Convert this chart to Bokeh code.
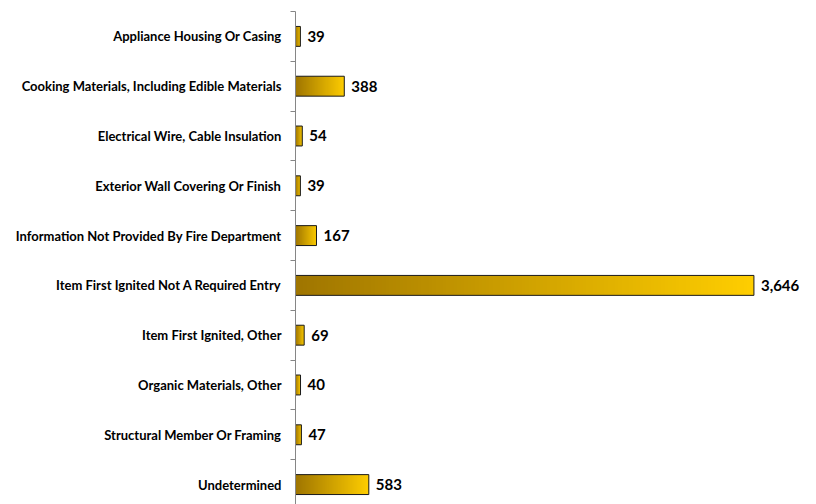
import numpy as np
from bokeh.plotting import figure
from bokeh.models import Range1d, FixedTicker, ColumnDataSource
from bokeh.core.properties import value
from bokeh.embed import file_html
from bokeh.resources import INLINE

categories = [
    "Appliance Housing Or Casing",
    "Cooking Materials, Including Edible Materials",
    "Electrical Wire, Cable Insulation",
    "Exterior Wall Covering Or Finish",
    "Information Not Provided By Fire Department",
    "Item First Ignited Not A Required Entry",
    "Item First Ignited, Other",
    "Organic Materials, Other",
    "Structural Member Or Framing",
    "Undetermined",
]
counts = [39, 388, 54, 39, 167, 3646, 69, 40, 47, 583]

n = len(categories)
ypos = list(range(n))
BAR_H = 0.40

p = figure(width=816, height=504, output_backend="svg", toolbar_location=None,
           x_range=Range1d(0, 4080), y_range=Range1d(9.40, -0.50),
           min_border_left=295, min_border_right=8, min_border_top=11, min_border_bottom=0)
p.outline_line_color = None
p.grid.visible = False
p.background_fill_color = "white"
p.border_fill_color = "white"
p.xaxis.visible = False

# gradient images per bar
ncol = 128
c0 = np.array([160, 118, 0])
c1 = np.array([255, 206, 0])
imgs, xs, ys, dws, dhs = [], [], [], [], []
for i, v in enumerate(counts):
    t = np.linspace(0, 1, ncol)
    rgb = (c0[None, :] * (1 - t[:, None]) + c1[None, :] * t[:, None]).astype(np.uint32)
    rgba = (255 << 24) | (rgb[:, 2] << 16) | (rgb[:, 1] << 8) | rgb[:, 0]
    img = np.tile(rgba, (2, 1)).astype(np.uint32)
    imgs.append(img)
    xs.append(0)
    ys.append(i - BAR_H / 2)
    dws.append(v)
    dhs.append(BAR_H)
p.image_rgba(image=imgs, x=xs, y=ys, dw=dws, dh=dhs)

src = ColumnDataSource(dict(y=ypos, right=counts, label=[f"{c:,}" for c in counts]))
p.hbar(y="y", left=0, right="right", height=BAR_H, source=src,
       fill_color=None, line_color="#1a1a1a", line_width=1)
p.text(x="right", y="y", text="label", source=src, x_offset=7,
       text_align="left", text_baseline="middle",
       text_font=value("Lato"), text_font_style="bold", text_font_size="15px",
       text_color="black")

ax = p.yaxis[0]
ax.ticker = FixedTicker(ticks=ypos, minor_ticks=[i + 0.5 for i in range(-1, n)])
ax.major_label_overrides = {i: c for i, c in enumerate(categories)}
ax.major_tick_line_color = None
ax.major_tick_out = 0
ax.major_tick_in = 0
ax.minor_tick_out = 5
ax.minor_tick_in = 0
ax.minor_tick_line_color = "#868686"
ax.axis_line_color = "#868686"
ax.major_label_standoff = 9
ax.major_label_text_font = "Lato"
ax.major_label_text_font_style = "bold"
ax.major_label_text_font_size = "13px"
ax.major_label_text_color = "black"

open("out.html", "w").write(file_html(p, INLINE))
